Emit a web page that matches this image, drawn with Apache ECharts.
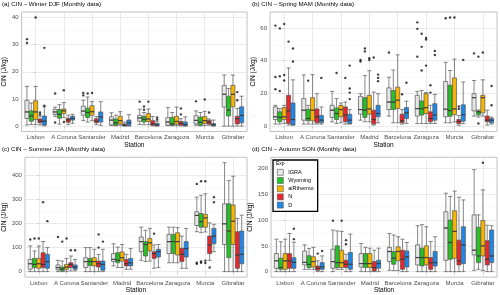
<!DOCTYPE html>
<html><head><meta charset="utf-8">
<script src="https://cdn.jsdelivr.net/npm/echarts@6/dist/echarts.min.js"></script>
<style>html,body{margin:0;padding:0;background:#fff}#c{width:500px;height:295px}</style>
</head><body><div id="c"></div>
<script>
const stations = ['Lisbon','A Coruna','Santander','Madrid','Barcelona','Zaragoza','Murcia','Gibraltar'];
const experiments = ['IGRA','Wyoming','aiRthermo','N','D'];
const expColors = ['#e6e6e6','#22c322','#f7b500','#e8262b','#1e88ea'];
const panelTitles = ['(a) CIN \u2013 Winter DJF (Monthly data)','(b) CIN \u2013 Spring MAM (Monthly data)','(c) CIN \u2013 Summer JJA (Monthly data)','(d) CIN \u2013 Autumn SON (Monthly data)'];

// [min, Q1, median, Q3, max] per station
const djf_IGRA = [[0.4,2.8,5.2,9.5,14.6],[3.6,4.3,5.2,6.2,7.0],[2.0,4.0,5.5,7.3,9.5],[0.2,0.4,2.2,3.4,4.9],[0.6,1.8,3.0,4.0,6.2],[0.2,0.3,1.5,3.1,6.8],[0.3,0.8,2.1,3.8,5.6],[0,7,11.7,15,18.8]];
const djf_Wyoming = [[0.6,1.8,3.7,5.6,8.5],[0.7,2.9,4.3,6.1,7.9],[1.5,3.2,5.0,6.6,10.7],[0.1,0.3,1.2,2.6,4.0],[0.5,1.5,2.5,3.6,5.0],[0.1,0.3,0.8,3.2,5.0],[0.1,0.3,1.4,3.3,5.0],[0,3.7,5.9,11,13.8]];
const djf_aiRthermo = [[0.6,2.4,5.2,9.3,14.6],[3.2,4.6,5.6,6.3,8.7],[2.0,4.0,5.3,7.5,9.0],[0.3,0.8,2.0,3.6,5.3],[0.5,1.7,2.6,4.6,6.3],[0.2,0.7,1.7,3.6,7.0],[0.2,0.9,2.0,3.5,5.4],[0,7.1,11.7,15,18.8]];
const djf_N = [[0.4,1.2,1.8,2.6,3.7],[0.5,1.4,2.3,2.9,4.0],[0.5,1.2,1.8,2.7,3.5],[0.0,0.1,0.3,0.8,1.5],[0.1,0.3,0.8,2.0,3.5],[0.1,0.3,1.0,1.7,2.7],[0.3,0.7,1.5,2.1,2.6],[0,0.8,2.7,3.6,6.5]];
const djf_D = [[0.1,0.4,1.8,3.7,7.1],[1.0,2.2,2.8,3.6,4.3],[0.3,1.5,3.3,5.2,9.0],[0.0,0.2,1.2,2.2,4.2],[0.0,0.1,0.4,1.0,1.8],[0.0,0.1,0.5,1.5,3.4],[0.0,0.1,0.5,0.9,2.2],[0,1.2,3.9,7.1,11]];
// outliers: [station index, value]
const djf_out_IGRA = [[0,30.6],[0,32],[1,12],[1,1.3],[2,11.3],[2,12.2],[4,9.0],[6,9.1]];
const djf_out_Wyoming = [[2,12.0],[4,6.0],[4,7.2]];
const djf_out_aiRthermo = [[0,40],[1,13.2],[1,1.5],[2,12.2],[4,9.0],[6,9.8]];
const djf_out_N = [[0,5.0],[0,4.3],[5,6.5],[5,4.3],[6,5.0],[7,12.5],[7,9.5]];
const djf_out_D = [[0,28.8],[0,7.5],[4,2.4],[4,3.2]];

const mam_IGRA = [[1.2,4.0,5.7,11.7,12.7],[1.2,3.6,9.7,16.8,31.3],[2.6,5.3,9.7,12.7,21.2],[3.6,7.3,10.1,18.2,19.8],[6.1,10.1,14.7,23.4,29.9],[1.5,6.1,10.7,18.8,21.2],[2.0,5.7,10.3,27.3,39.0],[6.1,9.3,17.4,19.8,27.9]];
const mam_Wyoming = [[1.2,2.6,5.3,8.7,10.7],[1.2,3.2,4.6,10.3,12.7],[1.6,4.0,7.7,11.1,16.8],[2.6,5.3,9.7,17.4,30.9],[2.0,10.1,14.7,21.8,34.3],[1.6,6.7,10.7,15.4,21.8],[2.0,6.0,9.5,25.0,34.0],[5.5,6.7,8.7,9.3,9.8]];
const mam_aiRthermo = [[1.6,4.0,5.7,11.3,12.7],[1.2,3.2,9.7,17.4,31.5],[2.0,5.7,10.1,12.7,14.1],[2.6,7.3,10.5,18.8,33.9],[2.0,10.7,15.8,23.8,43.6],[1.6,7.7,11.3,19.8,20.5],[2.5,7.0,10.5,29.5,41.0],[6.1,8.1,17.4,18.8,28.3]];
const mam_N = [[0.6,1.6,9.3,18.8,35.6],[1.2,2.0,5.7,10.5,19.8],[1.2,2.6,6.7,11.7,14.7],[0.6,1.2,4.0,9.7,20.8],[1.2,2.0,3.2,7.3,10.1],[1.6,2.6,4.6,8.7,12.7],[0.5,1.5,2.8,4.0,6.5],[0.6,2.6,3.6,6.1,9.7]];
const mam_D = [[0.6,0.6,4.0,14.1,28.3],[1.2,2.0,3.6,6.5,11.7],[1.2,1.6,3.6,7.3,10.1],[2.0,5.7,7.7,12.7,19.8],[1.6,4.6,8.1,11.3,15.2],[1.6,3.6,6.7,13.7,19.4],[1.5,3.0,7.0,13.0,27.0],[1.2,2.0,3.6,4.6,5.5]];
const mam_out_IGRA = [[0,61.5],[0,30],[0,22.5],[3,39.5],[3,40.5],[4,45],[5,63.5],[5,59.5],[5,42.5],[6,66],[7,44.5]];
const mam_out_Wyoming = [[0,59.8],[0,30.5],[0,21.5],[1,27.8],[2,32.5],[3,45.7],[3,47.5],[5,56.5],[5,48.5],[5,34],[6,66.5],[7,42.5],[7,1.6]];
const mam_out_aiRthermo = [[0,62.5],[0,31.3],[0,27.9],[3,40.4],[3,41.5],[5,54],[5,53],[5,37],[6,66.5],[7,45]];
const mam_out_N = [[0,51.7],[2,29.5],[3,42],[4,19.5],[5,25],[5,20.5],[6,10.5],[6,12]];
const mam_out_D = [[0,47.5],[0,39.5],[1,29.5],[2,37],[2,23],[2,20.5],[2,16.5],[3,31.5],[3,29.5],[3,27.5],[4,26.5],[5,46],[5,43.5],[6,40.5],[7,24.5],[7,12.7]];

const jja_IGRA = [[0,10,33,51,107],[0,8,17,28,47],[0,17,42,58,100],[24,42,51,75,116],[47,83,125,144,185],[37,75,125,155,185],[166,192,234,249,310],[0,113,199,282,453]];
const jja_Wyoming = [[0,17,30,55,86],[0,3,11,19,44],[0,26,42,55,100],[17,37,47,79,102],[42,65,113,125,172],[37,75,125,155,185],[162,185,208,242,318],[0,58,169,282,379]];
const jja_aiRthermo = [[0,14,33,55,107],[0,10,19,30,55],[0,24,42,58,93],[17,44,58,82,113],[44,86,120,138,180],[37,69,125,162,183],[165,185,224,238,324],[0,113,210,277,397]];
const jja_N = [[0,17,30,79,125],[3,17,30,37,65],[0,19,33,44,72],[10,24,33,51,72],[14,55,75,83,111],[14,42,72,97,148],[47,75,111,148,203],[0,14,69,166,221]];
const jja_D = [[0,14,42,72,100],[3,10,19,28,51],[0,6,30,44,93],[10,24,37,55,96],[17,61,83,93,113],[14,61,96,125,180],[83,116,148,180,197],[0,33,72,169,235]];
const jja_out_IGRA = [[0,134],[1,144],[6,365],[6,37],[6,33]];
const jja_out_Wyoming = [[0,138],[1,125],[6,376],[6,42],[6,37]];
const jja_out_aiRthermo = [[0,138],[1,138],[6,376],[6,46],[6,36]];
const jja_out_N = [[0,289],[1,89],[2,155],[2,100],[4,158],[6,17]];
const jja_out_D = [[0,210],[1,89],[2,125],[6,310],[6,289]];

const son_IGRA = [[0,6.5,21,35,63],[4.5,13,18,40,52],[0,6.5,19.5,43.5,80.6],[0,9,15.6,35,54.6],[2.6,19.5,39,47,74],[0,13,27.3,52,89],[0,22,84.5,116,152],[2.6,32.5,41.6,110,197.5]];
const son_Wyoming = [[0,4.5,8,26,58],[4.5,8,14,31,45],[4.5,8,17.5,50,79],[0,8,15.6,35,47],[2,14.3,26,39,71],[0,11,27.3,45.5,91],[0,24,56.5,100,145.5],[4.5,17.5,30.5,86,110]];
const son_aiRthermo = [[0,4.5,21,35,63],[4.5,9,19.5,29,47],[4.5,8,17.5,41.6,78],[0,8,15.6,35,45.5],[2,21,39,48,67.6],[0,13,27.3,50,87],[0,26,78,118,156],[2,30.5,50,99,158.5]];
const son_N = [[0,6.5,21,35,74],[0,2.6,6.5,11,21],[0,8,14.3,22,33.8],[0,1.3,8,19.5,41.6],[0,4.5,24,41.6,63],[0,4.5,17.5,27.3,58.5],[0,13,21,61,144],[0,13,24,60,90]];
const son_D = [[0,6.5,18,27,57],[0,4.5,9,17.5,30.5],[0,4.5,14.3,37,72.8],[0,6.5,15.6,22,45.5],[0,9,28.6,40,56.5],[0,11,17.5,39,67.6],[0,15.6,52,87,139],[0,17.5,30.5,80.6,89]];
const son_out_IGRA = [[2,98.8]];
const son_out_Wyoming = [];
const son_out_aiRthermo = [[2,98.8],[7,211]];
const son_out_N = [[1,35],[2,61],[2,53]];
const son_out_D = [[0,83],[0,63],[1,40]];

const yTicksDJF = [0,10,20,30,40], yMinorDJF = [5,15,25,35];
const yTicksMAM = [0,20,40,60], yMinorMAM = [10,30,50];
const yTicksJJA = [0,100,200,300,400], yMinorJJA = [50,150,250,350,450];
const yTicksSON = [0,50,100,150,200], yMinorSON = [25,75,125,175];

const panels = [
  {title: panelTitles[0], boxes:[djf_IGRA,djf_Wyoming,djf_aiRthermo,djf_N,djf_D], outs:[djf_out_IGRA,djf_out_Wyoming,djf_out_aiRthermo,djf_out_N,djf_out_D], ticks:yTicksDJF, minor:yMinorDJF, grid:{left:20, top:12, width:227, height:119.5}, tl:{left:2, top:1}},
  {title: panelTitles[1], boxes:[mam_IGRA,mam_Wyoming,mam_aiRthermo,mam_N,mam_D], outs:[mam_out_IGRA,mam_out_Wyoming,mam_out_aiRthermo,mam_out_N,mam_out_D], ticks:yTicksMAM, minor:yMinorMAM, grid:{left:270, top:12, width:227, height:119.5}, tl:{left:252, top:1}},
  {title: panelTitles[2], boxes:[jja_IGRA,jja_Wyoming,jja_aiRthermo,jja_N,jja_D], outs:[jja_out_IGRA,jja_out_Wyoming,jja_out_aiRthermo,jja_out_N,jja_out_D], ticks:yTicksJJA, minor:yMinorJJA, grid:{left:22, top:157.3, width:225, height:120.5}, tl:{left:2, top:146.5}},
  {title: panelTitles[3], boxes:[son_IGRA,son_Wyoming,son_aiRthermo,son_N,son_D], outs:[son_out_IGRA,son_out_Wyoming,son_out_aiRthermo,son_out_N,son_out_D], ticks:yTicksSON, minor:yMinorSON, grid:{left:271, top:157.3, width:226, height:120.5}, tl:{left:252, top:146.5}}
];

const FONT = 'Liberation Sans, Arial, sans-serif';
const txt = '#4d4d4d', frame = '#b3b3b3', gridMaj = '#dedede', gridMin = '#efefef';
const option = {
  animation: false,
  backgroundColor: '#fff',
  textStyle: {fontFamily: FONT},
  title: [], grid: [], xAxis: [], yAxis: [], series: [],
  legend: {
    data: experiments.map((n,i)=>({name:n, icon:'rect', itemStyle:{color:expColors[i], borderColor:'#555', borderWidth:0.6}})),
    orient:'vertical', left:273, top:160, itemWidth:6, itemHeight:6, itemGap:1.6,
    padding:[9,4,3,4], borderColor:'#000', borderWidth:1.3, backgroundColor:'#fff',
    textStyle:{fontSize:5.5, color:'#000', fontFamily:FONT},
    selectedMode:false, z:20
  }
};
option.title.push({text:'Exp', left:276, top:161, z:30, padding:0, textStyle:{fontSize:5, fontWeight:'normal', color:'#000', fontFamily:FONT}});

panels.forEach((p, pi) => {
  option.title.push({text:p.title, left:p.tl.left, top:p.tl.top, padding:0, textStyle:{fontSize:6.2, fontWeight:'normal', color:'#000', fontFamily:FONT}});
  option.grid.push(Object.assign({show:true, borderColor:frame, borderWidth:0.8, backgroundColor:'#fff'}, p.grid));
  let dmax = 0;
  p.boxes.forEach(b => b.forEach(r => dmax = Math.max(dmax, r[4])));
  p.outs.forEach(o => o.forEach(r => dmax = Math.max(dmax, r[1])));
  const pad = dmax * 0.05;
  const ymin = -pad, ymax = dmax + pad;
  option.xAxis.push({type:'category', gridIndex:pi, data:stations, name:'Station', nameLocation:'middle', nameGap:8.5,
    nameTextStyle:{fontSize:6.5, color:'#000', fontFamily:FONT},
    axisLine:{show:false}, axisTick:{show:true, alignWithLabel:true, length:2, lineStyle:{color:frame, width:0.6}},
    axisLabel:{interval:0, fontSize:6, color:txt, margin:3, fontFamily:FONT}, splitLine:{show:false}});
  option.xAxis.push({type:'value', gridIndex:pi, min:-0.5, max:7.5, axisLine:{show:false}, axisLabel:{show:false},
    axisTick:{show:false, customValues:[0,1,2,3,4,5,6,7]}, splitLine:{show:true, lineStyle:{color:gridMaj, width:0.6}}});
  option.yAxis.push({type:'value', gridIndex:pi, min:ymin, max:ymax, name:'CIN (J/kg)', nameLocation:'middle', nameGap: pi===2?15:(pi===3?14:11),
    nameTextStyle:{fontSize:6.5, color:'#000', fontFamily:FONT},
    axisLine:{show:false}, axisTick:{show:true, length:2, customValues:p.ticks, lineStyle:{color:frame, width:0.6}},
    axisLabel:{customValues:p.ticks, fontSize:6, color:txt, margin:3, fontFamily:FONT},
    splitLine:{show:true, lineStyle:{color:gridMaj, width:0.6}}});
  option.yAxis.push({type:'value', gridIndex:pi, min:ymin, max:ymax, position:'right', axisLine:{show:false}, axisLabel:{show:false},
    axisTick:{show:false, customValues:p.minor}, splitLine:{show:true, lineStyle:{color:gridMin, width:0.4}}});

  const bw = p.grid.width / stations.length;
  const avail = bw * 0.8 - 2;
  const step = avail * 0.212 / bw;
  const boxW = bw * 0.145;
  experiments.forEach((e, ei) => {
    option.series.push({type:'boxplot', name:e, xAxisIndex:pi*2, yAxisIndex:pi*2, data:p.boxes[ei],
      boxWidth:[boxW, boxW], itemStyle:{color:expColors[ei], borderColor:'#555', borderWidth:0.7},
      emphasis:{disabled:true}, z:2});
    const dx = (ei - 2) * step;
    option.series.push({type:'scatter', name:e+' median', xAxisIndex:pi*2+1, yAxisIndex:pi*2,
      data:p.boxes[ei].map((r,si)=>[si+dx, r[2]]), symbol:'rect', symbolSize:[boxW, 1.2],
      itemStyle:{color:'#333'}, silent:true, z:3});
    option.series.push({type:'scatter', name:e+' outliers', xAxisIndex:pi*2+1, yAxisIndex:pi*2,
      data:p.outs[ei].map(r=>[r[0]+dx, r[1]]), symbol:'circle', symbolSize:2.4,
      itemStyle:{color:'#111'}, silent:true, z:4});
  });
});

const chart = echarts.init(document.getElementById('c'), null, {renderer:'canvas'});
chart.setOption(option);
</script>
</body></html>
